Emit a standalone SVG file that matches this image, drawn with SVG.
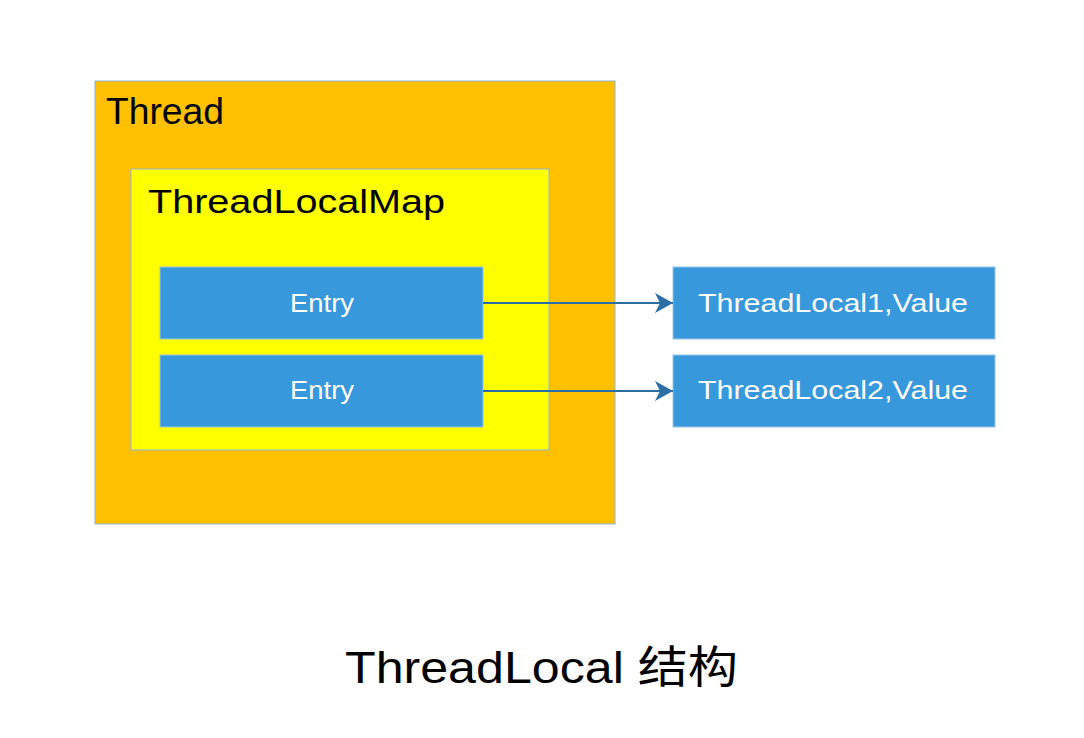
<svg xmlns="http://www.w3.org/2000/svg" width="1084" height="738" viewBox="0 0 1084 738">
<defs>
<style>
text{font-family:"Liberation Sans","Noto Sans CJK SC",sans-serif}
.blue{fill:#3798DB;stroke:#9CC3E6;stroke-width:1}
.wt{fill:#FFFFFF;font-size:26px}
.conn{stroke:#2A6EA5;stroke-width:2;fill:none;marker-end:url(#arr)}
</style>
<marker id="arr" viewBox="0 0 18 20" refX="18" refY="10" markerWidth="18" markerHeight="20" markerUnits="userSpaceOnUse" orient="auto">
<path d="M0,0 L18,10 L0,20 L5,10 Z" fill="#2A6EA5"/>
</marker>
</defs>
<rect width="1084" height="738" fill="#FFFFFF"/>
<g id="thread">
<rect x="95" y="81" width="520" height="443" fill="#FFC000" stroke="#8FB3D9" stroke-width="1"/>
<text x="106" y="124" font-size="37" fill="#000" textLength="118" lengthAdjust="spacingAndGlyphs">Thread</text>
</g>
<g id="threadlocalmap">
<rect x="131" y="169" width="418" height="281" fill="#FFFF00" stroke="#8FB3D9" stroke-width="1"/>
<text x="148" y="213" font-size="34" fill="#000" textLength="297" lengthAdjust="spacingAndGlyphs">ThreadLocalMap</text>
</g>
<g id="entry1">
<rect class="blue" x="160" y="267" width="323" height="72"/>
<text class="wt" x="290" y="312" textLength="64" lengthAdjust="spacingAndGlyphs">Entry</text>
</g>
<g id="entry2">
<rect class="blue" x="160" y="355" width="323" height="72"/>
<text class="wt" x="290" y="399" textLength="64" lengthAdjust="spacingAndGlyphs">Entry</text>
</g>
<g id="tl1">
<rect class="blue" x="673" y="267" width="322" height="72"/>
<text class="wt" x="698" y="312" textLength="270" lengthAdjust="spacingAndGlyphs">ThreadLocal1,Value</text>
</g>
<g id="tl2">
<rect class="blue" x="673" y="355" width="322" height="72"/>
<text class="wt" x="698" y="399" textLength="270" lengthAdjust="spacingAndGlyphs">ThreadLocal2,Value</text>
</g>
<g id="connectors">
<path class="conn" d="M483,303 L673,303"/>
<path class="conn" d="M483,391 L673,391"/>
</g>
<g id="title">
<text x="345" y="683" font-size="44" fill="#000" textLength="393" lengthAdjust="spacingAndGlyphs">ThreadLocal 结构</text>
</g>
</svg>
